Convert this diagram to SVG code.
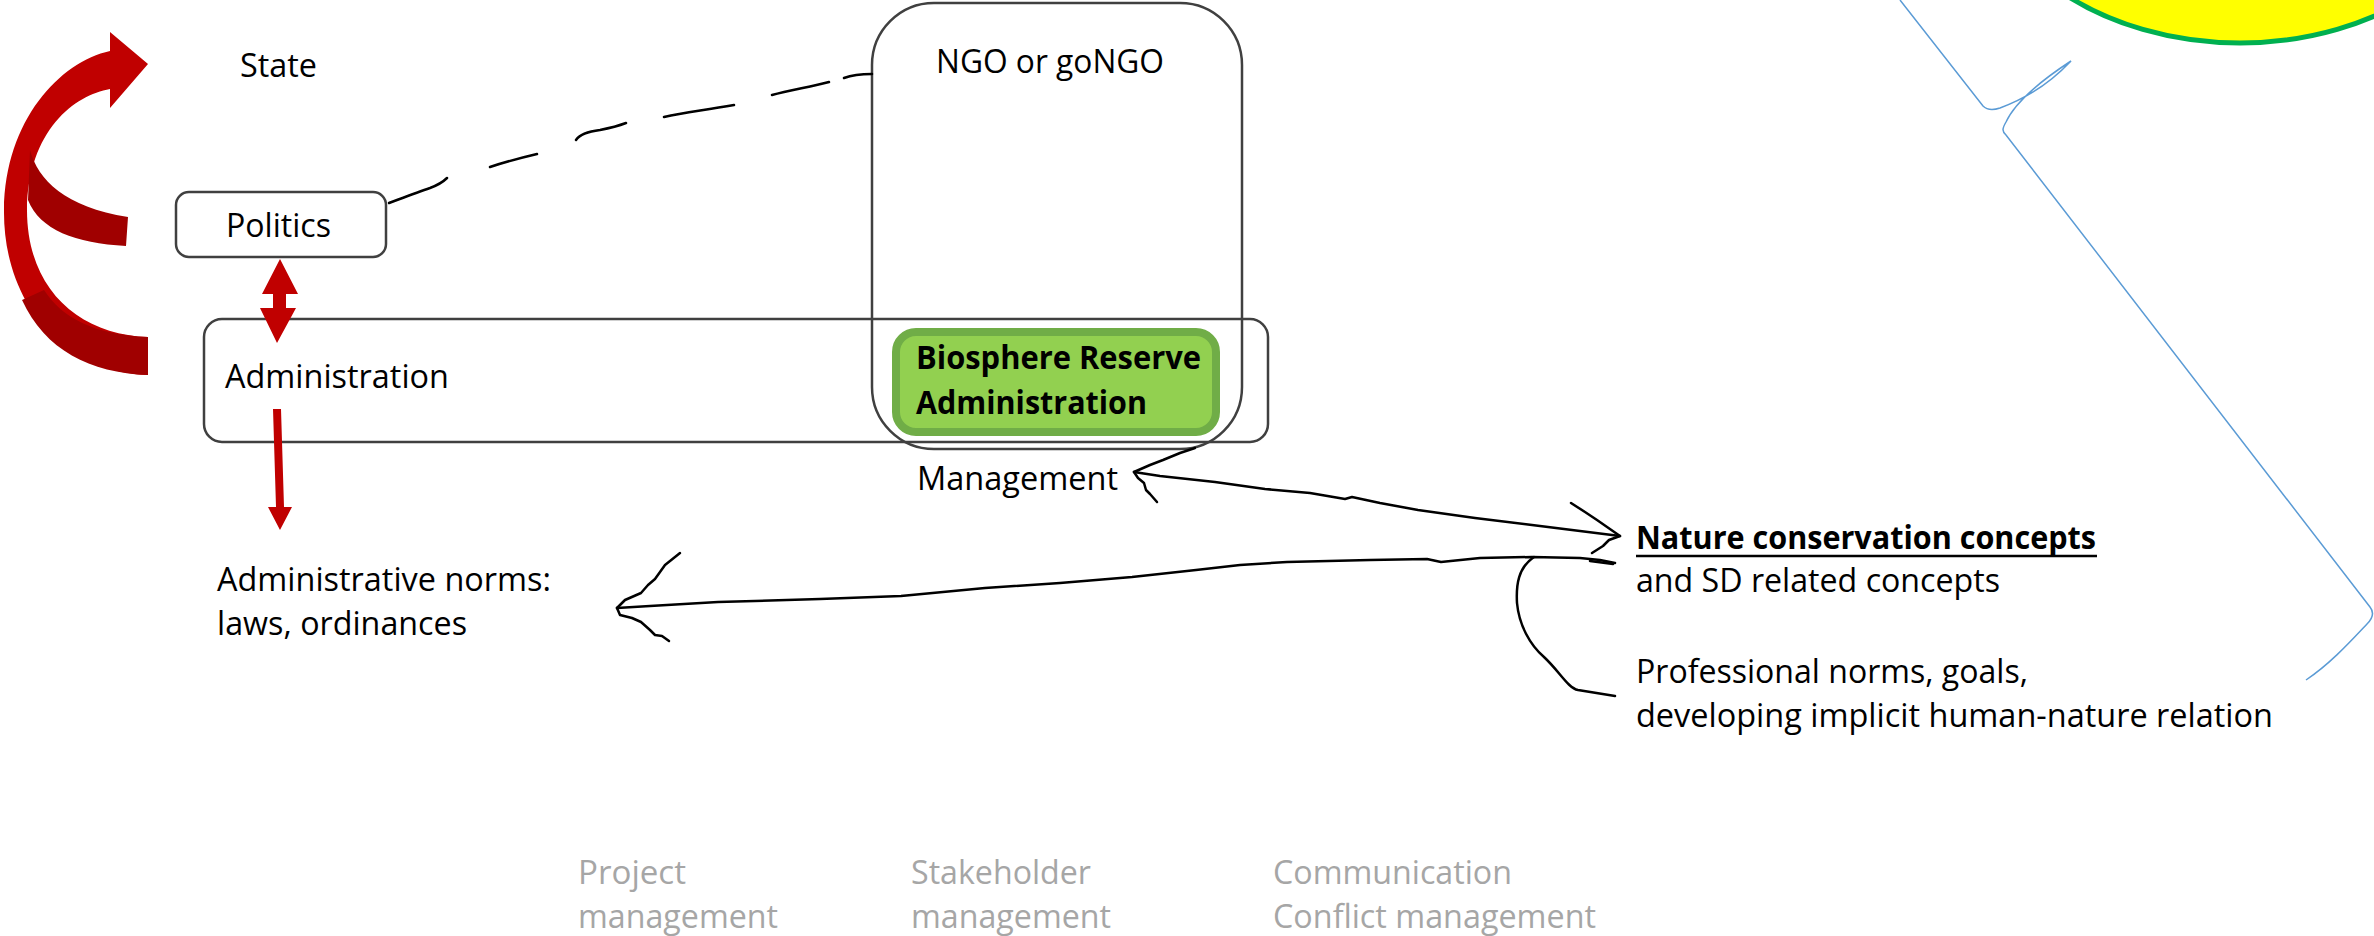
<svg xmlns="http://www.w3.org/2000/svg" width="2374" height="936" viewBox="0 0 2374 936">
  <style>
    text { font-family: "Open Sans", "Liberation Sans", sans-serif; font-size: 32px; fill: #000; }
    .bold { font-weight: bold; }
    .muted { fill: #A6A6A6; }
    .box { fill: none; stroke: #404040; stroke-width: 2.5; }
    .ink { fill: none; stroke: #000; stroke-width: 2.5; stroke-linecap: round; stroke-linejoin: round; }
    .red { fill: #C00000; }
    .red-dark { fill: #A00000; }
    .blue { fill: none; stroke: #5B9BD5; stroke-width: 1.5; }
  </style>

  <!-- sun disc at the top right -->
  <g id="sun">
    <ellipse cx="2240" cy="-150" rx="264" ry="193" fill="#FFFF00" stroke="#00B050" stroke-width="5"/>
  </g>

  <!-- blue bracket line on the right -->
  <g id="bracket">
    <path class="blue" d="M1900,0 L1983,106 C1987,110 1994,110 2000,108 C2030,97 2055,78 2071,61 C2045,78 2016,100 2006,122 C2002,129 2002,131 2006,135 L2370,607 C2374,612 2373,618 2367,624 C2350,642 2330,664 2306,680"/>
  </g>

  <!-- curved state arrow -->
  <g id="state-arrow">
    <path class="red" d="M148,375 C60,372 3,300 4,210 C5,120 60,62 110,51 L110,32 L148,64 L110,108 L110,89 C75,95 28,130 27,210 C27,290 80,335 148,337 Z"/>
    <path class="red-dark" d="M148,375 C90,373 45,350 22,300 L44,290 C62,318 95,335 148,337 Z"/>
    <path class="red-dark" d="M30,150 C38,180 65,207 128,217 L126,246 C75,243 40,230 28,200 Z"/>
  </g>

  <g id="state">
    <text x="240" y="77" textLength="77" lengthAdjust="spacingAndGlyphs">State</text>
  </g>

  <g id="politics">
    <rect class="box" x="176" y="192" width="210" height="65" rx="13"/>
    <text x="226" y="237" textLength="105" lengthAdjust="spacingAndGlyphs">Politics</text>
  </g>

  <g id="administration">
    <rect class="box" x="204" y="319" width="1064" height="123" rx="18"/>
    <text x="225" y="388" textLength="224" lengthAdjust="spacingAndGlyphs">Administration</text>
  </g>

  <g id="ngo">
    <rect class="box" x="872" y="3" width="370" height="446" rx="62"/>
    <text x="936" y="73" textLength="228" lengthAdjust="spacingAndGlyphs">NGO or goNGO</text>
  </g>

  <g id="br-administration">
    <rect x="896" y="332" width="320" height="100" rx="20" fill="#92D050" stroke="#70AD47" stroke-width="8"/>
    <text class="bold" x="916" y="369" textLength="285" lengthAdjust="spacingAndGlyphs">Biosphere Reserve</text>
    <text class="bold" x="916" y="414" textLength="231" lengthAdjust="spacingAndGlyphs">Administration</text>
  </g>

  <g id="management">
    <text x="917" y="490" textLength="201" lengthAdjust="spacingAndGlyphs">Management</text>
  </g>

  <g id="admin-norms">
    <text x="217" y="591" textLength="334" lengthAdjust="spacingAndGlyphs">Administrative norms:</text>
    <text x="217" y="635" textLength="250" lengthAdjust="spacingAndGlyphs">laws, ordinances</text>
  </g>

  <g id="concepts">
    <text class="bold" x="1636" y="549" textLength="460" lengthAdjust="spacingAndGlyphs">Nature conservation concepts</text>
    <line x1="1636" y1="556" x2="2097" y2="556" stroke="#000" stroke-width="2.5"/>
    <text x="1636" y="592" textLength="364" lengthAdjust="spacingAndGlyphs">and SD related concepts</text>
  </g>

  <g id="professional-norms">
    <text x="1636" y="683" textLength="392" lengthAdjust="spacingAndGlyphs">Professional norms, goals,</text>
    <text x="1636" y="727" textLength="637" lengthAdjust="spacingAndGlyphs">developing implicit human-nature relation</text>
  </g>

  <g id="management-fields">
    <text class="muted" x="578" y="884" textLength="108" lengthAdjust="spacingAndGlyphs">Project</text>
    <text class="muted" x="578" y="928" textLength="200" lengthAdjust="spacingAndGlyphs">management</text>
    <text class="muted" x="911" y="884" textLength="180" lengthAdjust="spacingAndGlyphs">Stakeholder</text>
    <text class="muted" x="911" y="928" textLength="200" lengthAdjust="spacingAndGlyphs">management</text>
    <text class="muted" x="1273" y="884" textLength="239" lengthAdjust="spacingAndGlyphs">Communication</text>
    <text class="muted" x="1273" y="928" textLength="323" lengthAdjust="spacingAndGlyphs">Conflict management</text>
  </g>

  <g id="connectors">
    <!-- politics to administration, both ways -->
    <polygon class="red" points="280,259 298,294 286,294 286,308 296,308 277,343 260,308 273,308 273,294 262,294"/>
    <!-- administration down to its norms -->
    <polygon class="red" points="273,409 281,409 284,507 292,507 280,530 268,507 276,507"/>

    <!-- dashed link politics to NGO -->
    <path class="ink" d="M389,203 C405,197 418,192 430,188 C438,185 443,182 447,178 M490,167 C505,162 520,158 537,154 M576,140 C580,134 592,131 600,130 C610,128 618,126 626,123 M664,117 C685,112 700,111 734,105 M772,95 C790,90 810,87 829,82 M844,78 C852,75 860,74 872,74"/>

    <!-- management to nature conservation concepts, both ways -->
    <path class="ink" d="M1134,472 L1160,476 L1215,482 L1265,489 L1310,493 L1345,499 L1352,497 L1380,503 L1418,510 L1475,518 L1532,525 L1620,536"/>
    <path class="ink" d="M1134,472 L1150,465 L1163,460 L1180,453 L1195,448"/>
    <path class="ink" d="M1134,472 L1138,478 L1144,483 L1146,490 L1150,494 L1157,502"/>
    <path class="ink" d="M1571,503 L1585,512 L1597,520 L1620,536 L1609,540 L1603,546 L1592,553"/>

    <!-- concepts back to administrative norms -->
    <path class="ink" d="M1615,563 L1600,560 L1580,558 L1532,557 L1480,558 L1441,562 L1427,559 L1370,560 L1287,562 L1240,565 L1196,570 L1132,577 L1060,583 L985,588 L901,596 L820,599 L718,602 L650,606 L617,608"/>
    <path class="ink" d="M1590,561 L1613,564" stroke-width="4"/>
    <path class="ink" d="M617,608 L625,600 L641,593 L648,585 L655,579 L665,565 L680,553"/>
    <path class="ink" d="M617,608 L620,615 L632,618 L641,622 L650,630 L655,635 L662,636 L669,641"/>

    <!-- branch to professional norms -->
    <path class="ink" d="M1534,557 C1518,568 1516,585 1517,603 C1519,625 1530,645 1544,657 C1560,672 1568,688 1578,690 L1615,696"/>
  </g>
</svg>
